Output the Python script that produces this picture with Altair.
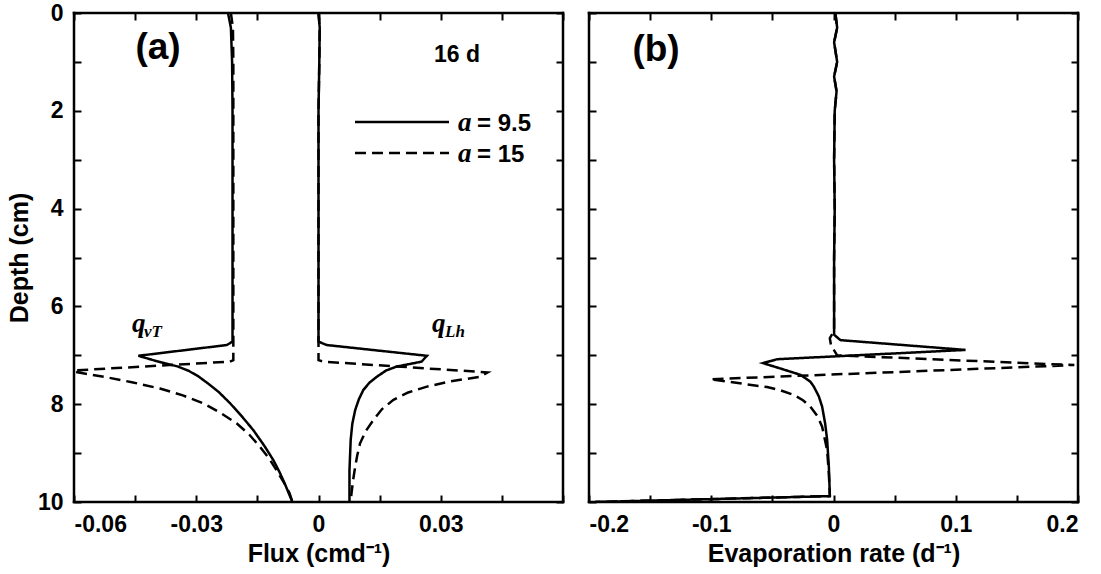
import altair as alt
import pandas as pd

# ---------------- panel (a): flux profiles (cm d-1) ----------------
# q_vT, a = 9.5
vt95_depth = [0, 0.3, 1.0, 2, 3, 4, 5, 6, 6.72, 6.79, 7.01, 7.12, 7.23, 7.32, 7.43, 7.57, 7.75, 7.98, 8.25,
              8.53, 8.85, 9.14, 9.40, 9.62, 9.82, 10.0]
vt95_flux = [-0.0222, -0.0215, -0.0212, -0.0211, -0.0211, -0.0211, -0.0211, -0.0211, -0.0211, -0.0225,
             -0.0442, -0.0397, -0.0345, -0.0318, -0.0295, -0.0272, -0.0245, -0.0217, -0.0188,
             -0.0160, -0.0133, -0.0111, -0.0095, -0.0083, -0.0073, -0.0064]
# q_vT, a = 15
vt15_depth = [0, 0.3, 1.0, 2, 3, 4, 5, 6, 7.0, 7.10, 7.13, 7.31, 7.34, 7.45, 7.55, 7.68, 7.82, 7.98, 8.18,
              8.39, 8.62, 8.87, 9.10, 9.35, 9.60, 9.82, 10.0]
vt15_flux = [-0.0215, -0.0210, -0.0209, -0.0209, -0.0209, -0.0209, -0.0209, -0.0209, -0.0209, -0.0209,
             -0.0218, -0.0600, -0.0597, -0.0520, -0.0458, -0.0389, -0.0333, -0.0283, -0.0240,
             -0.0201, -0.0170, -0.0144, -0.0122, -0.0103, -0.0085, -0.0071, -0.0064]
# q_Lh, a = 9.5
lh95_depth = [0, 0.3, 1.0, 2, 3, 4, 5, 6, 6.72, 6.79, 7.01, 7.13, 7.23, 7.31, 7.44, 7.56, 7.71, 7.90,
              8.12, 8.40, 8.73, 9.35, 10.0]
lh95_flux = [0.0, 0.0003, 0.0002, 0.0, 0.0, 0.0, 0.0, 0.0, 0.0, 0.0020, 0.0266, 0.0253, 0.0192, 0.0166,
             0.0143, 0.0125, 0.0110, 0.0099, 0.0090, 0.0083, 0.0079, 0.0076, 0.0076]
# q_Lh, a = 15
lh15_depth = [0, 0.3, 1.0, 2, 3, 4, 5, 6, 7.0, 7.10, 7.13, 7.35, 7.44, 7.53, 7.64, 7.76, 7.91, 8.10,
              8.32, 8.55, 8.80, 9.05, 9.28, 9.55, 9.82, 10.0]
lh15_flux = [0.0, 0.0003, 0.0002, 0.0, 0.0, 0.0, 0.0, 0.0, 0.0, 0.0, 0.0012, 0.0415, 0.0396, 0.0325,
             0.0266, 0.0220, 0.0184, 0.0156, 0.0135, 0.0116, 0.0102, 0.0095, 0.0090, 0.0085, 0.0081, 0.0079]

# ---------------- panel (b): evaporation rate (d-1) ----------------
ev95_depth = [0, 0.3, 0.6, 1.0, 1.3, 1.6, 2.0, 3, 4, 5, 6, 6.58, 6.69, 6.89, 7.08, 7.16, 7.27, 7.40, 7.54,
              7.64, 7.84, 8.05, 8.40, 8.73, 9.28, 9.86, 9.88, 10.0]
ev95_rate = [0.0015, 0.0030, 0.0005, 0.0030, 0.0005, 0.0025, 0.0010, 0.0005, 0.0010, 0.0005, 0.0005, 0.0005,
             0.0057, 0.108, -0.046, -0.0577, -0.0434, -0.0270, -0.0189, -0.0161, -0.0120, -0.0093, -0.0068,
             -0.0052, -0.0038, -0.0030, -0.0030, -0.195]
ev15_depth = [0, 0.3, 0.6, 1.0, 1.3, 1.6, 2.0, 3, 4, 5, 6, 6.5, 6.65, 6.8, 7.0, 7.20, 7.49, 7.65, 7.72,
              7.81, 7.92, 8.05, 8.25, 8.46, 8.94, 9.42, 9.86, 9.88, 10.0]
ev15_rate = [0.0015, 0.0030, 0.0005, 0.0030, 0.0005, 0.0025, 0.0010, 0.0005, 0.0010, 0.0005, 0.0005, 0.0005,
             -0.0030, -0.0020, 0.0030, 0.197, -0.1008, -0.0543, -0.0430, -0.0325, -0.0250, -0.0189, -0.0130,
             -0.0093, -0.0052, -0.0038, -0.0030, -0.0030, -0.195]

# axis tick positions and labelled ticks
flux_ticks = [-0.06, -0.045, -0.03, -0.015, 0, 0.015, 0.03, 0.045, 0.06]
flux_labels = [-0.06, -0.03, 0, 0.03]
rate_ticks = [-0.2, -0.15, -0.1, -0.05, 0, 0.05, 0.1, 0.15, 0.2]
rate_labels = [-0.2, -0.1, 0, 0.1, 0.2]
depth_ticks = [0, 1, 2, 3, 4, 5, 6, 7, 8, 9, 10]
depth_labels = [0, 2, 4, 6, 8, 10]

RUN_95 = "a = 9.5"
RUN_15 = "a = 15"

SANS = "Liberation Sans"
SERIF = "Liberation Serif"


def profile(depth, value, curve, run):
    return pd.DataFrame({"depth": depth, "value": value, "curve": curve, "run": run,
                         "idx": list(range(len(depth)))})


flux_df = pd.concat([
    profile(vt95_depth, vt95_flux, "vT95", RUN_95),
    profile(vt15_depth, vt15_flux, "vT15", RUN_15),
    profile(lh95_depth, lh95_flux, "Lh95", RUN_95),
    profile(lh15_depth, lh15_flux, "Lh15", RUN_15),
])
rate_df = pd.concat([
    profile(ev95_depth, ev95_rate, "E95", RUN_95),
    profile(ev15_depth, ev15_rate, "E15", RUN_15),
])

dash_scale = alt.Scale(domain=[RUN_95, RUN_15], range=[[1, 0], [11, 6]])
depth_scale = alt.Scale(domain=[0, 10], reverse=True, nice=False, zero=False)

TICK = 7
W = H = 489


def inward_axis(orient, values, labels=None, title=None):
    kw = dict(orient=orient, values=values, offset=-TICK, tickSize=TICK, tickWidth=2, tickColor="black",
              domain=False, grid=False)
    if labels is None:
        kw["labels"] = False
    else:
        arr = ",".join(str(v) for v in labels)
        kw["labelExpr"] = f"indexof([{arr}], datum.value) >= 0 ? toString(datum.value) : ''"
        kw["labelFont"] = SANS
        kw["labelFontSize"] = 23
        kw["labelFontWeight"] = "bold"
        kw["labelColor"] = "black"
        kw["labelPadding"] = 11
    if title is not None:
        kw["title"] = title
        kw["titleFont"] = SANS
        kw["titleFontSize"] = 25
        kw["titleFontWeight"] = "bold"
        kw["titleColor"] = "black"
        kw["titlePadding"] = 5
    else:
        kw["title"] = None
    return alt.Axis(**kw)


def text(label, x, y, size, font=SANS, style="normal", weight="bold", align="center", baseline="middle"):
    return alt.Chart(pd.DataFrame({"label": [label]})).mark_text(
        font=font, fontSize=size, fontStyle=style, fontWeight=weight, align=align, baseline=baseline,
        color="black"
    ).encode(x=alt.value(x), y=alt.value(y), text="label:N")


def edge(**enc):
    return alt.Chart(pd.DataFrame({"edge": [0]})).mark_rule(
        color="#000000", strokeWidth=2.5, strokeCap="square"
    ).encode(**{k: alt.value(v) for k, v in enc.items()})


def border():
    # four black edges around a panel's plotting area
    return [
        edge(x=0, x2=W, y=0),
        edge(x=0, x2=W, y=H),
        edge(x=0, y=0, y2=H),
        edge(x=W, y=0, y2=H),
    ]


def panel(df, x_domain, ticks, labels, x_title, y_labelled):
    x_scale = alt.Scale(domain=x_domain, nice=False, zero=False)
    lines = alt.Chart(df).mark_line(color="black", strokeWidth=2.5, clip=True).encode(
        x=alt.X("value:Q", scale=x_scale, axis=inward_axis("bottom", ticks, labels, x_title)),
        y=alt.Y("depth:Q", scale=depth_scale,
                axis=inward_axis("left", depth_ticks, depth_labels if y_labelled else None,
                                 "Depth (cm)" if y_labelled else None)),
        detail="curve:N",
        order="idx:Q",
        strokeDash=alt.StrokeDash("run:N", scale=dash_scale, legend=None),
    )
    mirror = alt.Chart(df).mark_point(opacity=0).encode(
        x=alt.X("value:Q", scale=x_scale, axis=inward_axis("top", ticks)),
        y=alt.Y("depth:Q", scale=depth_scale, axis=inward_axis("right", depth_ticks)),
    )
    return lines, mirror


lines_a, mirror_a = panel(flux_df, [-0.06, 0.06], flux_ticks, flux_labels, "Flux (cmd\u207b\u00b9)", True)
lines_b, mirror_b = panel(rate_df, [-0.2, 0.2], rate_ticks, rate_labels, "Evaporation rate (d\u207b\u00b9)", False)

legend_solid = alt.Chart(pd.DataFrame({"run": [RUN_95]})).mark_rule(color="black", strokeWidth=2.5).encode(
    x=alt.value(281), x2=alt.value(375), y=alt.value(109))
legend_dash = alt.Chart(pd.DataFrame({"run": [RUN_15]})).mark_rule(
    color="black", strokeWidth=2.5, strokeDash=[11, 6]).encode(
    x=alt.value(281), x2=alt.value(375), y=alt.value(140))

left = alt.layer(
    lines_a, mirror_a, *border(),
    text("(a)", 84, 35, 37),
    text("16 d", 383, 42, 23),
    legend_solid, legend_dash,
    text("a", 384, 110, 27, font=SERIF, style="italic", align="left"),
    text("= 9.5", 403, 111, 24, align="left"),
    text("a", 384, 141, 27, font=SERIF, style="italic", align="left"),
    text("= 15", 403, 142, 24, align="left"),
    text("q", 58, 319, 27, font=SERIF, style="italic", align="left", baseline="alphabetic"),
    text("vT", 70, 324, 17, font=SERIF, style="italic", align="left", baseline="alphabetic"),
    text("q", 358, 319, 27, font=SERIF, style="italic", align="left", baseline="alphabetic"),
    text("Lh", 371, 324, 17, font=SERIF, style="italic", align="left", baseline="alphabetic"),
).resolve_axis(x="independent", y="independent").properties(width=W, height=H)

right = alt.layer(
    lines_b, mirror_b, *border(),
    text("(b)", 67, 37, 37),
).resolve_axis(x="independent", y="independent").properties(width=W, height=H)

chart = alt.hconcat(left, right, spacing=26, bounds="flush").properties(
    padding={"left": 7, "top": 2, "right": 5, "bottom": 2},
    background="white",
).configure_view(strokeWidth=0)

chart.save("out.html", embed_options={"renderer": "svg", "actions": False})
